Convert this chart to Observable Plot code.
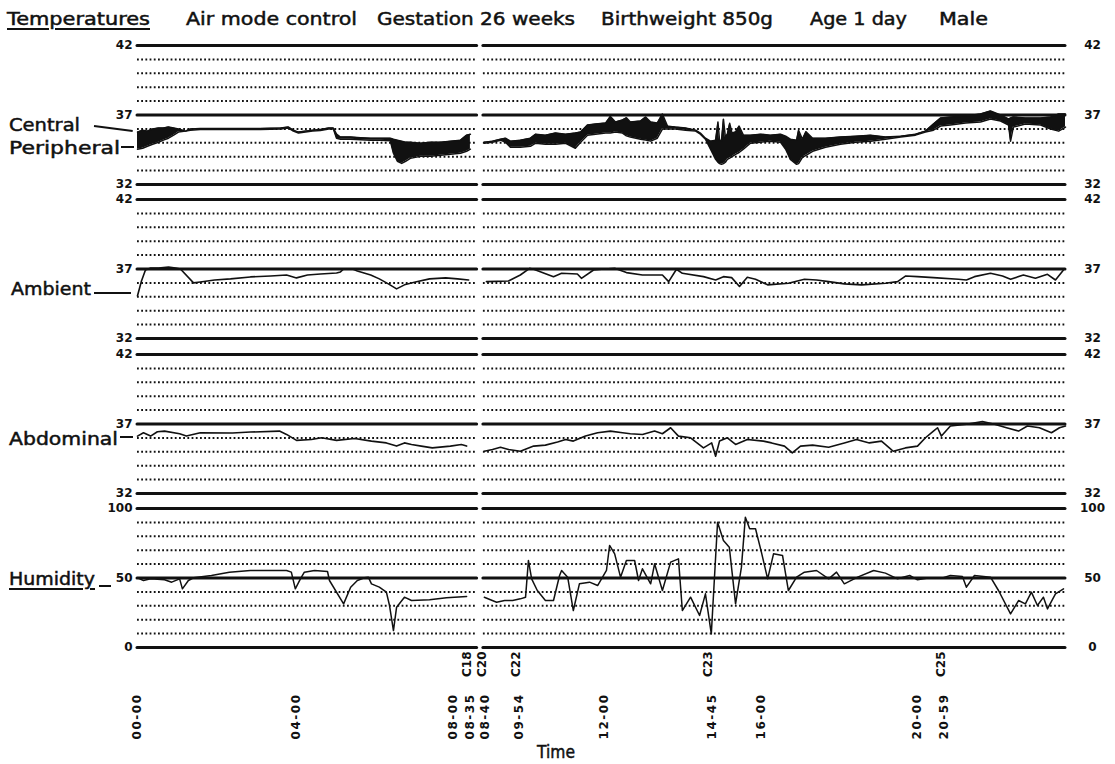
<!DOCTYPE html>
<html>
<head>
<meta charset="utf-8">
<script src="https://cdn.jsdelivr.net/npm/d3@7"></script>
<script src="https://cdn.jsdelivr.net/npm/@observablehq/plot@0.6"></script>
<style>
  html,body{margin:0;padding:0;background:#fff;}
  #chart{position:relative;width:1115px;height:764px;overflow:hidden;background:#fff;color:#111;}
  .panel{position:absolute;left:0;}
  .panel svg{display:block;overflow:visible;}
  .lbl{position:absolute;white-space:nowrap;transform-origin:0 0;font-family:"DejaVu Sans",sans-serif;font-weight:normal;-webkit-text-stroke:0.5px #111;color:#111;}
  .ul{text-decoration:underline;text-decoration-thickness:2px;text-underline-offset:3px;}
  .lead{position:absolute;height:2px;background:#111;transform-origin:0 50%;}
  g[aria-label="x-axis tick label"] text, g[aria-label="x-axis"] text, g[aria-label="events"] text{letter-spacing:1.5px;}
</style>
</head>
<body>
<div id="chart"></div>
<script>
// ---------- text ----------
const titleParts = ["Temperatures", "Air mode control", "Gestation 26 weeks", "Birthweight 850g", "Age 1 day", "Male"];
const seriesNames = ["Central", "Peripheral", "Ambient", "Abdominal", "Humidity"];
const axisTitle = "Time";

// ---------- time axis (hours) ----------
const tickTimes = [0, 4, 8, 8.5833, 8.6667, 9.9, 12, 14.75, 16, 20, 20.9833];
const tickLabels = ["00-00", "04-00", "08-00", "08-35", "08-40", "09-54", "12-00", "14-45", "16-00", "20-00", "20-59"];
const eventTimes = [8.5833, 8.6667, 9.9, 14.75, 20.9833];
const eventLabels = ["C18", "C20", "C22", "C23", "C25"];
const recordStart = [0, 8.655];
const recordEnd = [8.62, 24];

// ---------- y levels ----------
const tempTicks = [32, 37, 42];
const tempDotted = [33, 34, 35, 36, 38, 39, 40, 41];
const humTicks = [0, 50, 100];
const humDotted = [10, 20, 30, 40, 60, 70, 80, 90];

// ---------- central / peripheral temperature (°C) ----------
const cpTime = [0,0.13,0.25,0.38,0.53,0.65,0.78,0.91,1.03,1.21,1.33,1.58,2.34,3.09,3.60,3.80,3.92,4.05,4.23,4.41,4.61,4.82,4.94,5.02,5.12,5.38,5.63,5.89,6.14,6.39,6.47,6.57,6.68,6.78,6.90,7.16,7.41,7.67,7.92,8.24,8.45,8.58,
  8.66,8.92,9.21,9.39,9.57,9.92,10.17,10.30,10.54,10.79,11.04,11.28,11.41,11.58,11.78,12.03,12.28,12.46,12.66,12.92,13.18,13.35,13.48,13.61,13.81,14.07,14.33,14.45,14.58,14.71,14.84,14.99,15.14,15.35,15.55,15.73,15.99,16.24,16.50,16.63,16.75,16.91,17.06,17.32,17.65,18.03,18.42,18.80,19.18,19.57,19.95,20.29,20.58,20.84,21.13,21.51,21.88,22.13,22.38,22.58,22.63,22.70,23.00,23.38,23.63,23.83,24.00];
const cpCentral = [35.77,35.91,35.84,35.99,36.06,36.06,36.13,36.06,35.99,35.84,35.99,36.02,36.02,36.02,36.06,36.13,35.91,35.77,35.84,35.91,35.95,36.06,36.06,35.62,35.41,35.41,35.37,35.33,35.33,35.33,35.26,35.19,35.12,35.04,35.04,34.97,35.04,35.04,35.12,35.19,35.55,35.62,
  35.04,35.12,35.26,35.33,35.12,35.19,35.33,35.62,35.55,35.70,35.62,35.70,35.77,36.28,36.35,36.42,36.49,36.64,36.49,36.57,36.49,36.42,37.07,36.20,36.13,36.06,35.91,35.70,35.33,35.12,35.19,35.12,35.62,35.77,35.55,35.55,35.62,35.55,35.62,35.48,35.26,35.19,35.26,35.33,35.33,35.41,35.48,35.55,35.41,35.48,35.62,35.84,36.35,36.78,36.86,36.93,37.07,37.29,37.00,36.71,36.78,36.86,36.78,36.78,36.86,37.07,37.07];
const cpPeripheral = [34.54,34.61,34.75,34.90,35.04,35.19,35.33,35.55,35.77,35.84,35.91,35.95,35.95,35.95,35.99,36.06,35.84,35.70,35.77,35.84,35.88,35.99,35.99,35.33,35.26,35.26,35.22,35.19,35.19,35.15,34.25,33.67,33.52,33.67,33.88,34.03,34.03,34.10,34.17,34.25,34.39,34.54,
  34.97,35.04,35.19,35.04,34.68,34.68,34.75,34.97,34.90,34.90,34.97,34.61,35.04,35.55,35.62,35.70,35.77,35.70,35.41,35.26,35.12,35.33,35.99,35.99,35.99,35.91,35.84,35.62,35.26,34.54,33.81,33.45,33.81,34.17,34.54,34.97,35.04,35.12,35.04,34.54,33.81,33.45,33.96,34.39,34.68,34.90,35.04,35.12,35.26,35.41,35.55,35.77,35.91,36.20,36.28,36.42,36.49,36.71,36.57,36.28,35.12,36.13,36.35,36.28,35.99,35.84,36.13];
// short excursions of the central trace (spikes inside the black band)
const cpSpikeTime = [12.15, 12.56, 13.05, 14.90, 14.94, 15.04, 15.09, 15.20, 15.26, 15.44, 16.96, 17.15];
const cpSpikeCentral = [36.90, 36.80, 36.85, 36.50, 35.20, 36.70, 35.40, 36.40, 35.70, 36.20, 35.90, 35.80];
const cpSpikePeripheral = [35.70, 35.50, 35.20, 33.60, 33.50, 33.50, 33.60, 33.90, 34.00, 34.30, 33.50, 34.10];

// ---------- ambient temperature (°C) ----------
const ambTime = [0,0.10,0.20,0.33,0.53,0.78,0.96,1.08,1.41,1.58,1.94,2.34,2.84,3.35,3.75,4.0,4.28,4.61,5.02,5.12,5.20,5.43,5.55,5.89,6.11,6.34,6.55,6.75,7.03,7.39,7.80,8.14,8.52,
  8.70,9.50,9.92,10.15,10.25,10.74,10.94,11.33,11.43,11.73,11.93,12.26,12.56,12.97,13.48,13.64,13.84,13.99,14.53,14.84,15.04,15.25,15.45,15.65,15.86,16.17,16.70,17.11,17.42,17.73,18.13,18.57,19.18,19.49,19.70,20.0,20.58,21.33,21.53,21.73,22.13,22.43,22.63,22.95,23.25,23.55,23.75,23.95];
const ambTemp = [35.07,36.14,36.93,37.07,37.07,37.14,37.07,37.0,36.0,36.07,36.21,36.29,36.43,36.5,36.57,36.36,36.57,36.64,36.71,36.79,37.0,37.0,36.86,36.57,36.29,35.93,35.57,35.86,36.07,36.29,36.36,36.29,36.21,
  36.09,36.14,36.57,37.05,36.98,36.45,36.69,36.64,36.33,36.93,36.98,37.05,36.74,36.57,36.57,36.09,36.98,36.69,36.45,36.21,36.45,36.38,35.74,36.41,36.26,35.86,35.98,36.26,36.21,36.09,35.93,35.86,35.98,36.09,36.5,36.45,36.38,36.26,36.21,36.45,36.69,36.5,36.26,36.57,36.33,36.62,36.21,36.93];

// ---------- abdominal temperature (°C) ----------
const abdTime = [0,0.15,0.33,0.50,0.68,1.06,1.23,1.58,2.39,2.84,3.57,3.75,4.0,4.38,4.64,5.02,5.48,5.91,6.29,6.55,6.75,6.93,7.18,7.46,7.92,8.27,8.45,
  8.66,8.92,9.21,9.50,9.92,10.25,10.54,10.84,11.04,11.23,11.53,11.83,12.15,12.46,12.66,12.97,13.28,13.48,13.69,13.89,14.20,14.53,14.74,14.84,14.94,15.14,15.35,15.65,16.06,16.27,16.60,16.80,17.01,17.32,17.73,18.13,18.44,18.77,19.08,19.28,19.38,19.69,20.0,20.29,20.58,20.73,20.87,21.13,21.53,21.93,22.23,22.53,22.83,23.05,23.35,23.65,23.85,24.0];
const abdTemp = [36.13,36.37,36.13,36.44,36.49,36.30,36.13,36.37,36.35,36.42,36.49,36.25,35.82,35.89,36.01,35.82,35.96,35.77,35.64,35.41,35.64,35.53,35.41,35.28,35.41,35.53,35.41,
  35.04,35.17,35.33,35.17,35.04,35.41,35.48,35.70,35.89,35.77,36.13,36.37,36.49,36.37,36.30,36.25,36.49,36.30,36.73,36.13,36.01,35.28,35.64,34.68,35.77,36.01,35.53,35.89,35.77,35.64,35.41,34.92,35.41,35.48,35.33,35.64,35.89,35.64,35.77,35.28,35.04,35.28,35.41,36.01,36.49,36.73,36.13,36.86,36.98,37.17,36.98,36.73,36.49,36.86,36.73,36.37,36.73,36.86];

// ---------- humidity (%) ----------
const humTime = [0,0.15,0.33,0.68,0.86,1.06,1.13,1.28,1.41,1.86,2.31,2.84,3.75,3.87,3.97,4.10,4.20,4.46,4.79,4.84,5.20,5.38,5.55,5.73,5.83,5.91,6.11,6.29,6.37,6.47,6.55,6.75,6.93,7.39,7.82,8.45,
  8.66,9.07,9.36,9.65,9.92,10.05,10.12,10.20,10.34,10.54,10.74,10.89,10.94,11.09,11.23,11.38,11.63,11.83,12.05,12.13,12.26,12.41,12.56,12.77,12.87,12.97,13.18,13.28,13.48,13.69,13.89,13.99,14.20,14.43,14.58,14.73,14.89,15.04,15.19,15.35,15.50,15.60,15.71,15.86,16.01,16.17,16.32,16.55,16.70,16.91,17.11,17.42,17.73,17.93,18.13,18.47,18.88,19.18,19.49,19.80,20.0,20.44,20.91,21.13,21.43,21.53,21.73,22.13,22.33,22.63,22.83,23.00,23.15,23.30,23.45,23.55,23.75,23.95];
const humValue = [50.1,48.2,49.4,48.7,47.0,49.4,42.2,48.2,50.1,51.8,54.2,55.4,55.4,54.2,42.2,49.4,54.2,55.4,54.7,48.2,31.4,43.4,48.2,50.1,50.6,45.8,43.4,39.8,30.2,12.2,29.0,36.2,33.8,34.3,35.8,36.7,
  36.2,32.6,33.8,33.8,35.0,36.2,62.6,49.4,41.0,33.8,33.8,51.8,55.4,50.6,26.6,45.8,47.0,44.6,55.4,73.4,67.4,50.6,62.6,62.6,48.2,56.6,45.8,60.2,41.0,61.4,63.8,26.6,36.2,23.0,38.6,9.8,90.1,77.0,72.2,31.4,57.8,93.7,85.4,85.4,68.6,49.4,67.4,66.2,41.0,50.6,54.2,55.4,49.4,54.2,45.8,50.6,55.4,53.5,49.4,51.8,48.7,50.1,50.1,51.8,51.1,43.4,51.8,50.6,41.0,24.2,33.8,31.4,39.8,30.2,36.2,27.8,38.6,42.2];

// ---------- layout ----------
const W = 1115;
const INK = "#111";
// chart-recorder paper is not perfectly linear in time: piecewise x scale
const timeBreaks = [0, 4, 8, 8.5833, 8.6667, 9.9, 12, 20, 20.9833, 24];
const timePixels = [137, 296, 453, 470, 485, 519, 604, 917, 944, 1065];
const tickText = new Map(tickTimes.map((t, i) => [t, tickLabels[i]]));

const segOf = t => (t < recordEnd[0] ? 0 : 1);
const rowsOf = (ts, vs) => ts.map((t, i) => ({t, v: vs[i], seg: segOf(t)}));
const levelRows = levels => levels.flatMap(v => recordStart.map((s, i) => ({v, x1: s, x2: recordEnd[i]})));

const chart = document.getElementById("chart");

function panel({top, domain, ticks, dotted, marks, last}) {
  const mt = 8, inner = 139, mb = last ? 117 : 8;
  const p = Plot.plot({
    width: W, height: mt + inner + mb,
    marginTop: mt, marginBottom: mb, marginLeft: 137, marginRight: 50,
    style: {fontFamily: "'DejaVu Sans', sans-serif", fontSize: "12px", fontWeight: "bold", color: INK, background: "transparent", overflow: "visible"},
    x: {type: "linear", domain: timeBreaks, range: timePixels, axis: last ? "bottom" : null,
        ticks: tickTimes, tickFormat: d => tickText.get(d), tickRotate: -90, tickSize: 0, tickPadding: 46, label: null},
    y: {domain, axis: "left", ticks, tickSize: 0, tickPadding: 5, label: null, tickFormat: d => String(d)},
    marks: [
      Plot.ruleY(levelRows(dotted), {y: "v", x1: "x1", x2: "x2", stroke: INK, strokeWidth: 2, strokeDasharray: "1.8,2.4"}),
      Plot.ruleY(levelRows(ticks), {y: "v", x1: "x1", x2: "x2", stroke: INK, strokeWidth: 3, strokeLinecap: "round"}),
      Plot.text(ticks, {y: d => d, text: d => String(d), frameAnchor: "right", dx: 27, textAnchor: "middle", fontSize: 12, fontWeight: "bold"}),
      ...marks,
      ...(last ? [Plot.text(eventTimes.map((t, i) => ({t, label: eventLabels[i]})),
          {x: "t", text: "label", frameAnchor: "bottom", rotate: -90, textAnchor: "end", dy: 4, fontSize: 12, fontWeight: "bold", ariaLabel: "events"})] : [])
    ]
  });
  const div = document.createElement("div");
  div.className = "panel";
  div.style.top = top + "px";
  div.appendChild(p);
  chart.appendChild(div);
}

const cpRows = cpTime.map((t, i) => ({t, c: cpCentral[i], p: cpPeripheral[i]}))
  .concat(cpSpikeTime.map((t, i) => ({t, c: cpSpikeCentral[i], p: cpSpikePeripheral[i]})))
  .sort((a, b) => a.t - b.t)
  .map(d => ({...d, seg: segOf(d.t)}));

panel({top: 37, domain: [32, 42], ticks: tempTicks, dotted: tempDotted, marks: [
  Plot.areaY(cpRows, {x: "t", y1: "p", y2: "c", z: "seg", fill: INK}),
  Plot.line(cpRows, {x: "t", y: "c", z: "seg", stroke: INK, strokeWidth: 1.5, strokeLinejoin: "round"}),
  Plot.line(cpRows, {x: "t", y: "p", z: "seg", stroke: INK, strokeWidth: 1.5, strokeLinejoin: "round"})
]});
panel({top: 191, domain: [32, 42], ticks: tempTicks, dotted: tempDotted, marks: [
  Plot.line(rowsOf(ambTime, ambTemp), {x: "t", y: "v", z: "seg", stroke: INK, strokeWidth: 1.6, strokeLinejoin: "round"})
]});
panel({top: 346, domain: [32, 42], ticks: tempTicks, dotted: tempDotted, marks: [
  Plot.line(rowsOf(abdTime, abdTemp), {x: "t", y: "v", z: "seg", stroke: INK, strokeWidth: 1.6, strokeLinejoin: "round"})
]});
panel({top: 500, domain: [0, 100], ticks: humTicks, dotted: humDotted, last: true, marks: [
  Plot.line(rowsOf(humTime, humValue), {x: "t", y: "v", z: "seg", stroke: INK, strokeWidth: 1.5, strokeLinejoin: "round"})
]});

// ---------- titles and series labels ----------
const labels = [
  {text: titleParts[0], x: 7, w: 143, base: 25, fs: 18, ul: true},
  {text: titleParts[1], x: 186, w: 171, base: 25, fs: 18},
  {text: titleParts[2], x: 377, w: 198, base: 25, fs: 18},
  {text: titleParts[3], x: 601, w: 172, base: 25, fs: 18},
  {text: titleParts[4], x: 810, w: 97, base: 25, fs: 18},
  {text: titleParts[5], x: 939, w: 49, base: 25, fs: 18},
  {text: seriesNames[0], x: 9, w: 71, base: 131, fs: 18},
  {text: seriesNames[1], x: 9, w: 111, base: 154, fs: 18},
  {text: seriesNames[2], x: 11, w: 80, base: 295, fs: 18},
  {text: seriesNames[3], x: 9, w: 109, base: 445, fs: 18},
  {text: seriesNames[4], x: 9, w: 86, base: 585, fs: 18, ul: true},
  {text: axisTitle, x: 537, w: 38, base: 758, fs: 17}
];
for (const L of labels) {
  const el = document.createElement("div");
  el.className = "lbl" + (L.ul ? " ul" : "");
  el.textContent = L.text;
  el.style.fontSize = L.fs + "px";
  el.style.lineHeight = L.fs + "px";
  el.style.left = L.x + "px";
  el.style.top = (L.base - 0.846 * L.fs) + "px";
  chart.appendChild(el);
  const w = el.getBoundingClientRect().width;
  if (w > 0) el.style.transform = `scaleX(${L.w / w})`;
}
// leader strokes from the labels to the traces
const leads = [[94, 126, 133, 131], [121, 147, 134, 147], [94, 293, 131, 293], [120, 437, 133, 437], [99, 586, 111, 586]];
for (const [x1, y1, x2, y2] of leads) {
  const el = document.createElement("div");
  el.className = "lead";
  const len = Math.hypot(x2 - x1, y2 - y1), ang = Math.atan2(y2 - y1, x2 - x1) * 180 / Math.PI;
  el.style.left = x1 + "px"; el.style.top = (y1 - 1) + "px"; el.style.width = len + "px";
  el.style.transform = `rotate(${ang}deg)`;
  chart.appendChild(el);
}
</script>
</body>
</html>
